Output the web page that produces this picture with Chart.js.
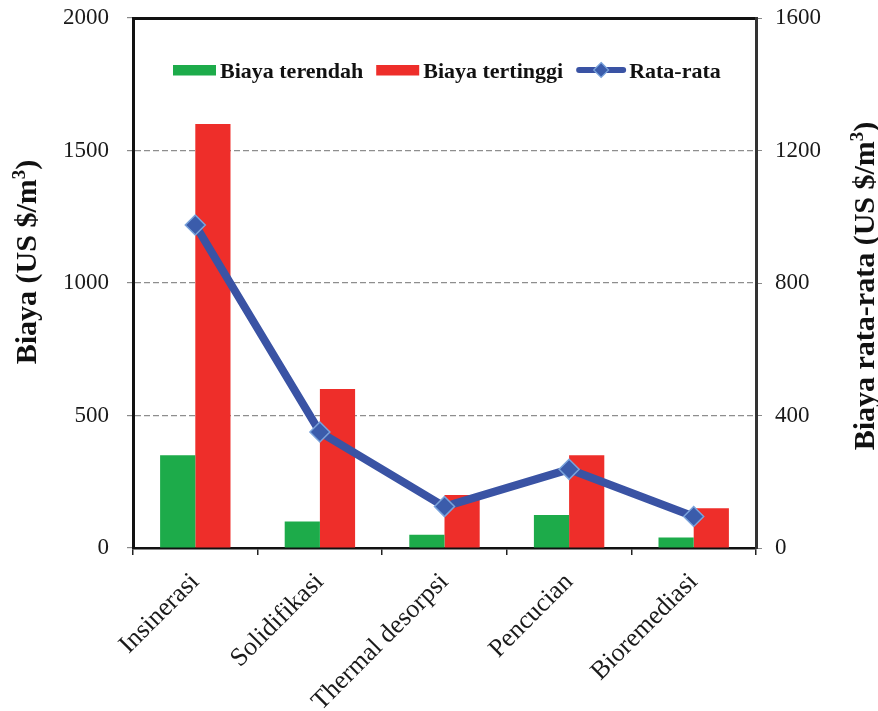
<!DOCTYPE html>
<html>
<head>
<meta charset="utf-8">
<title>Biaya remediasi</title>
<script src="https://cdn.jsdelivr.net/npm/chart.js@4"></script>
<style>
  html, body { margin: 0; padding: 0; background: #ffffff; }
  #wrap { width: 878px; height: 711px; }
</style>
</head>
<body>
<div id="wrap"><canvas id="c" width="878" height="711"></canvas></div>
<script>
// Remediation methods and their costs (US $/m3)
const categories = ['Insinerasi', 'Solidifikasi', 'Thermal desorpsi', 'Pencucian', 'Bioremediasi'];
const biayaTerendah = [350, 100, 50, 125, 40];
const biayaTertinggi = [1600, 600, 200, 350, 150];
const rataRata = [975, 350, 125, 237.5, 95];
const leftTicks = [0, 500, 1000, 1500, 2000];
const rightTicks = [0, 400, 800, 1200, 1600];

const seriesNames = ['Biaya terendah', 'Biaya tertinggi', 'Rata-rata'];
// axis titles: main text, superscript, closing text
const leftTitle = ['Biaya (US $/m', '3', ')'];
const rightTitle = ['Biaya rata-rata (US $/m', '3', ')'];

const GREEN = '#1dab4a';
const RED = '#ee2e2a';
const BLUE = '#3a53a4';
const SERIF = '"Liberation Serif", "Times New Roman", serif';

function zeroPadding(s) {
  s.paddingTop = 0;
  s.paddingBottom = 0;
  s.paddingLeft = 0;
  s.paddingRight = 0;
}

// Legend and rotated axis titles drawn on top of the chart
const decorations = {
  id: 'decorations',
  afterDraw(chart) {
    const ctx = chart.ctx;
    ctx.save();
    // legend row
    ctx.font = 'bold 22px ' + SERIF;
    ctx.textBaseline = 'middle';
    ctx.textAlign = 'left';
    const cy = 70;
    let x = 173;
    chart.data.datasets.forEach((ds) => {
      if (ds.type === 'line') {
        ctx.strokeStyle = ds.borderColor;
        ctx.lineWidth = 6;
        ctx.lineCap = 'round';
        ctx.beginPath();
        ctx.moveTo(x + 3, cy);
        ctx.lineTo(x + 47, cy);
        ctx.stroke();
        const r = 7.5;
        const mx = x + 25;
        ctx.beginPath();
        ctx.moveTo(mx, cy - r);
        ctx.lineTo(mx + r, cy);
        ctx.lineTo(mx, cy + r);
        ctx.lineTo(mx - r, cy);
        ctx.closePath();
        ctx.fillStyle = ds.pointBackgroundColor;
        ctx.fill();
        ctx.strokeStyle = ds.pointBorderColor;
        ctx.lineWidth = 1.2;
        ctx.stroke();
        x += 53;
      } else {
        ctx.fillStyle = ds.backgroundColor;
        ctx.fillRect(x, cy - 5, 43, 10.5);
        x += 47;
      }
      ctx.fillStyle = '#111';
      ctx.fillText(ds.label, x, cy + 2);
      x += ctx.measureText(ds.label).width + (ds.type === 'line' ? 0 : 13);
    });

    // axis titles, both reading bottom to top, with a raised "3"
    const size = 30;
    const drawTitle = (parts, cx, cyT) => {
      const big = 'bold ' + size + 'px ' + SERIF;
      const small = 'bold ' + Math.round(size * 0.62) + 'px ' + SERIF;
      ctx.save();
      ctx.translate(cx, cyT);
      ctx.rotate(-Math.PI / 2);
      ctx.textAlign = 'left';
      ctx.textBaseline = 'alphabetic';
      ctx.fillStyle = '#111';
      ctx.font = big;
      const w0 = ctx.measureText(parts[0]).width;
      const w2 = ctx.measureText(parts[2]).width;
      ctx.font = small;
      const w1 = ctx.measureText(parts[1]).width;
      let px = -(w0 + w1 + w2) / 2;
      const base = size * 0.33;
      ctx.font = big;
      ctx.fillText(parts[0], px, base);
      px += w0;
      ctx.font = small;
      ctx.fillText(parts[1], px, base - size * 0.38);
      px += w1;
      ctx.font = big;
      ctx.fillText(parts[2], px, base);
      ctx.restore();
    };
    drawTitle(leftTitle, 26, 262);
    drawTitle(rightTitle, 864, 286);
    ctx.restore();
  }
};

new Chart(document.getElementById('c'), {
  type: 'bar',
  data: {
    labels: categories,
    datasets: [
      {
        label: seriesNames[0],
        data: biayaTerendah,
        backgroundColor: GREEN,
        yAxisID: 'y',
        order: 2,
        categoryPercentage: 0.565,
        barPercentage: 1.0
      },
      {
        label: seriesNames[1],
        data: biayaTertinggi,
        backgroundColor: RED,
        yAxisID: 'y',
        order: 2,
        categoryPercentage: 0.565,
        barPercentage: 1.0
      },
      {
        type: 'line',
        label: seriesNames[2],
        data: rataRata,
        yAxisID: 'y1',
        order: 0,
        borderColor: BLUE,
        borderWidth: 8,
        tension: 0,
        pointStyle: 'rectRot',
        pointRadius: 10,
        pointBackgroundColor: '#3b5cab',
        pointBorderColor: '#7aa3db',
        pointBorderWidth: 1.5
      }
    ]
  },
  options: {
    responsive: false,
    animation: false,
    devicePixelRatio: 1,
    layout: { padding: { top: 18, left: 0, right: 0, bottom: 0 } },
    plugins: {
      legend: { display: false },
      tooltip: { enabled: false }
    },
    scales: {
      x: {
        type: 'category',
        position: 'bottom',
        offset: true,
        afterFit(s) { s.height = 163; zeroPadding(s); },
        grid: {
          offset: true,
          drawOnChartArea: false,
          drawTicks: true,
          tickLength: 7,
          color: '#222',
          lineWidth: 1.5
        },
        border: { display: true, color: '#111', width: 2.5 },
        ticks: {
          minRotation: 45,
          maxRotation: 45,
          padding: 12,
          color: '#1a1a1a',
          font: { family: SERIF, size: 26 }
        }
      },
      x2: {
        type: 'category',
        position: 'top',
        afterFit(s) { s.height = 0; zeroPadding(s); },
        grid: { display: false, drawTicks: false },
        ticks: { display: false },
        border: { display: true, color: '#111', width: 3 }
      },
      y: {
        position: 'left',
        min: 0,
        max: 2000,
        afterFit(s) { s.width = 133; zeroPadding(s); },
        afterBuildTicks(s) { s.ticks = leftTicks.map(v => ({ value: v })); },
        grid: {
          color: (c) => (c.tick && (c.tick.value === 0 || c.tick.value === 2000)) ? 'rgba(0,0,0,0)' : '#8e8e8e',
          tickColor: '#8a8a8a',
          lineWidth: 1.2,
          tickLength: 6
        },
        border: { display: true, color: '#111', width: 3, dash: [6, 3] },
        ticks: {
          padding: 18,
          color: '#1a1a1a',
          font: { family: SERIF, size: 23 },
          callback: (v) => String(v)
        }
      },
      y1: {
        position: 'right',
        min: 0,
        max: 1600,
        afterFit(s) { s.width = 122; zeroPadding(s); },
        afterBuildTicks(s) { s.ticks = rightTicks.map(v => ({ value: v })); },
        grid: {
          drawOnChartArea: false,
          tickColor: '#8a8a8a',
          tickLength: 6
        },
        border: { display: true, color: '#333', width: 3 },
        ticks: {
          padding: 13,
          color: '#1a1a1a',
          font: { family: SERIF, size: 23 },
          callback: (v) => String(v)
        }
      }
    }
  },
  plugins: [decorations]
});
</script>
</body>
</html>
